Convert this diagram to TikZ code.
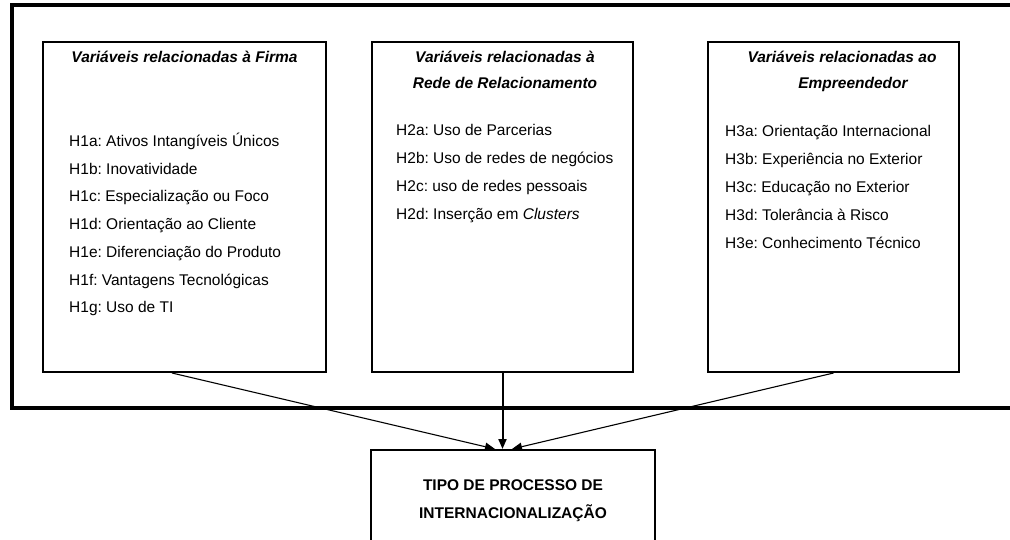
\documentclass[tikz,border=0pt]{standalone}
\usepackage{fontspec}
\setmainfont{Liberation Sans}
\usetikzlibrary{arrows.meta}
\frenchspacing
\begin{document}
\begin{tikzpicture}[x=1pt,y=-1pt,
  box/.style={draw,line width=2pt,inner sep=0pt},
  item/.style={anchor=base west,inner sep=0pt,font=\fontsize{15.5}{18}\selectfont},
  ttl/.style={anchor=base,inner sep=0pt,font=\fontsize{15.5}{18}\selectfont\bfseries\itshape},
  btxt/.style={anchor=base,inner sep=0pt,font=\fontsize{15.5}{18}\selectfont\bfseries},
  arr/.style={-{Triangle[length=10pt,width=8pt]}}]
\fill[white] (0,0) rectangle (1010,539);
\useasboundingbox (0,0) rectangle (1010,539);
% outer frame (open to the right)
\draw[line width=3.5pt] (1016,5) -- (12,5) -- (12,408) -- (1016,408);
% boxes
\node[box,minimum width=283pt,minimum height=330pt] (b1) at (184.5,207) {};
\node[box,minimum width=261pt,minimum height=330pt] (b2) at (502.5,207) {};
\node[box,minimum width=251pt,minimum height=330pt] (b3) at (833.5,207) {};
\node[box,minimum width=284pt,minimum height=120pt] (b4) at (513,510) {};
% box 1
\node[ttl] (t1) at (184.5,62.5) {Variáveis relacionadas à Firma};
\node[item] (h1a) at (69,146.5) {H1a: Ativos Intangíveis Únicos};
\node[item] (h1b) at (69,174.2) {H1b: Inovatividade};
\node[item] (h1c) at (69,201.9) {H1c: Especialização ou Foco};
\node[item] (h1d) at (69,229.6) {H1d: Orientação ao Cliente};
\node[item] (h1e) at (69,257.3) {H1e: Diferenciação do Produto};
\node[item] (h1f) at (69,285.0) {H1f: Vantagens Tecnológicas};
\node[item] (h1g) at (69,312.7) {H1g: Uso de TI};
% box 2
\node[ttl] (t2a) at (505,62.5) {Variáveis relacionadas à};
\node[ttl] (t2b) at (505,88.5) {Rede de Relacionamento};
\node[item] (h2a) at (396,135.5) {H2a: Uso de Parcerias};
\node[item] (h2b) at (396,163.5) {H2b: Uso de redes de negócios};
\node[item] (h2c) at (396,191.5) {H2c: uso de redes pessoais};
\node[item] (h2d) at (396,219.5) {H2d: Inserção em \textit{Clusters}};
% box 3
\node[ttl] (t3a) at (842,62.5) {Variáveis relacionadas ao};
\node[ttl] (t3b) at (853,88.5) {Empreendedor};
\node[item] (h3a) at (725,136.5) {H3a: Orientação Internacional};
\node[item] (h3b) at (725,164.5) {H3b: Experiência no Exterior};
\node[item] (h3c) at (725,192.5) {H3c: Educação no Exterior};
\node[item] (h3d) at (725,220.5) {H3d: Tolerância à Risco};
\node[item] (h3e) at (725,248.5) {H3e: Conhecimento Técnico};
% bottom box
\node[btxt] (r1) at (513,490.5) {TIPO DE PROCESSO DE};
\node[btxt] (r2) at (513,518.5) {INTERNACIONALIZAÇÃO};
% connectors
\draw[arr,line width=1.1pt] ([xshift=-12.5pt]b1.south) -- ([xshift=-18pt]b4.north);
\draw[arr,line width=2pt] (b2.south) -- (b2.south |- b4.north);
\draw[arr,line width=1.1pt] (b3.south) -- ([xshift=-1pt]b4.north);
\end{tikzpicture}
\end{document}
